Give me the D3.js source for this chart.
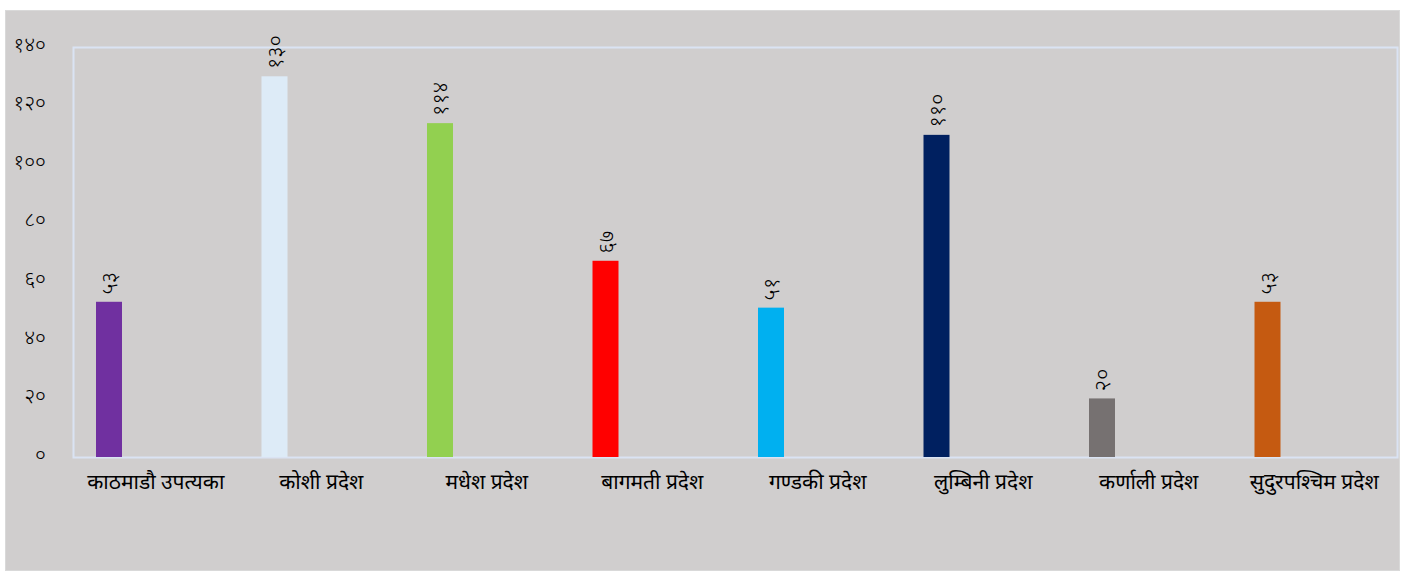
<!DOCTYPE html>
<html>
<head>
<meta charset="utf-8">
<script src="https://cdn.jsdelivr.net/npm/d3@7"></script>
<style>
  body { margin: 0; background: #ffffff; }
  svg text { font-family: "Noto Sans", "DejaVu Sans", sans-serif; fill: #000; }
</style>
</head>
<body>
<div id="chart"></div>
<script>
// data
const categories = ["काठमाडौ उपत्यका", "कोशी प्रदेश", "मधेश प्रदेश", "बागमती प्रदेश", "गण्डकी प्रदेश", "लुम्बिनी प्रदेश", "कर्णाली प्रदेश", "सुदुरपश्चिम प्रदेश"];
const values = [53, 130, 114, 67, 51, 110, 20, 53];
const valueLabels = ["५३", "१३०", "११४", "६७", "५१", "११०", "२०", "५३"];
const barColors = ["#7030A0", "#DDEBF7", "#92D050", "#FF0000", "#00B0F0", "#002060", "#767171", "#C55A11"];
const yTicks = [0, 20, 40, 60, 80, 100, 120, 140];
const yTickLabels = ["०", "२०", "४०", "६०", "८०", "१००", "१२०", "१४०"];

const width = 1405;
const height = 572;
const margin = { top: 47, right: 8, bottom: 115, left: 73 };

const svg = d3.select("#chart")
    .append("svg")
    .attr("width", width)
    .attr("height", height);

// outer chart area
svg.append("rect")
    .attr("x", 5.5)
    .attr("y", 10.5)
    .attr("width", 1394)
    .attr("height", 560)
    .attr("fill", "#D0CECE")
    .attr("stroke", "#D9D9D9");

const x = d3.scaleBand()
    .domain(categories)
    .range([margin.left, width - margin.right])
    .padding(0);

const y = d3.scaleLinear()
    .domain([0, 140])
    .range([height - margin.bottom, margin.top]);

// plot area border
svg.append("rect")
    .attr("x", margin.left + 0.5)
    .attr("y", y(140) + 0.5)
    .attr("width", width - margin.right - margin.left)
    .attr("height", y(0) - y(140))
    .attr("fill", "none")
    .attr("stroke", "#DAE3F3")
    .attr("stroke-width", 2);

// bars
const barW = 26;
const barOff = 23;
svg.selectAll("rect.bar")
    .data(values)
    .enter()
    .append("rect")
    .attr("class", "bar")
    .attr("x", (d, i) => x(categories[i]) + barOff)
    .attr("y", d => y(d))
    .attr("width", barW)
    .attr("height", d => y(0) - y(d))
    .attr("fill", (d, i) => barColors[i]);

// value labels (rotated)
svg.selectAll("text.val")
    .data(values)
    .enter()
    .append("text")
    .attr("class", "val")
    .attr("transform", (d, i) => `translate(${x(categories[i]) + barOff + barW / 2 + 8},${y(d) - 7}) rotate(-90)`)
    .attr("text-anchor", "start")
    .style("font-size", "22px")
    .style("font-weight", "300")
    .text((d, i) => valueLabels[i]);

// y axis
const yAxis = d3.axisLeft(y)
    .tickValues(yTicks)
    .tickFormat((d, i) => yTickLabels[i])
    .tickSize(0)
    .tickPadding(27);
const gy = svg.append("g")
    .attr("transform", `translate(${margin.left},0)`)
    .call(yAxis);
gy.select(".domain").remove();
gy.selectAll("text")
    .style("font-size", "21px")
    .style("font-weight", "300")
    .style("font-family", "\"Noto Sans\", sans-serif")
    .attr("dy", "0.2em");

// x axis
const xAxis = d3.axisBottom(x).tickSize(0).tickPadding(17);
const gx = svg.append("g")
    .attr("transform", `translate(0,${y(0)})`)
    .call(xAxis);
gx.select(".domain").remove();
gx.selectAll("text")
    .style("font-size", "21px")
    .style("font-family", "\"Noto Sans\", sans-serif");
</script>
</body>
</html>
